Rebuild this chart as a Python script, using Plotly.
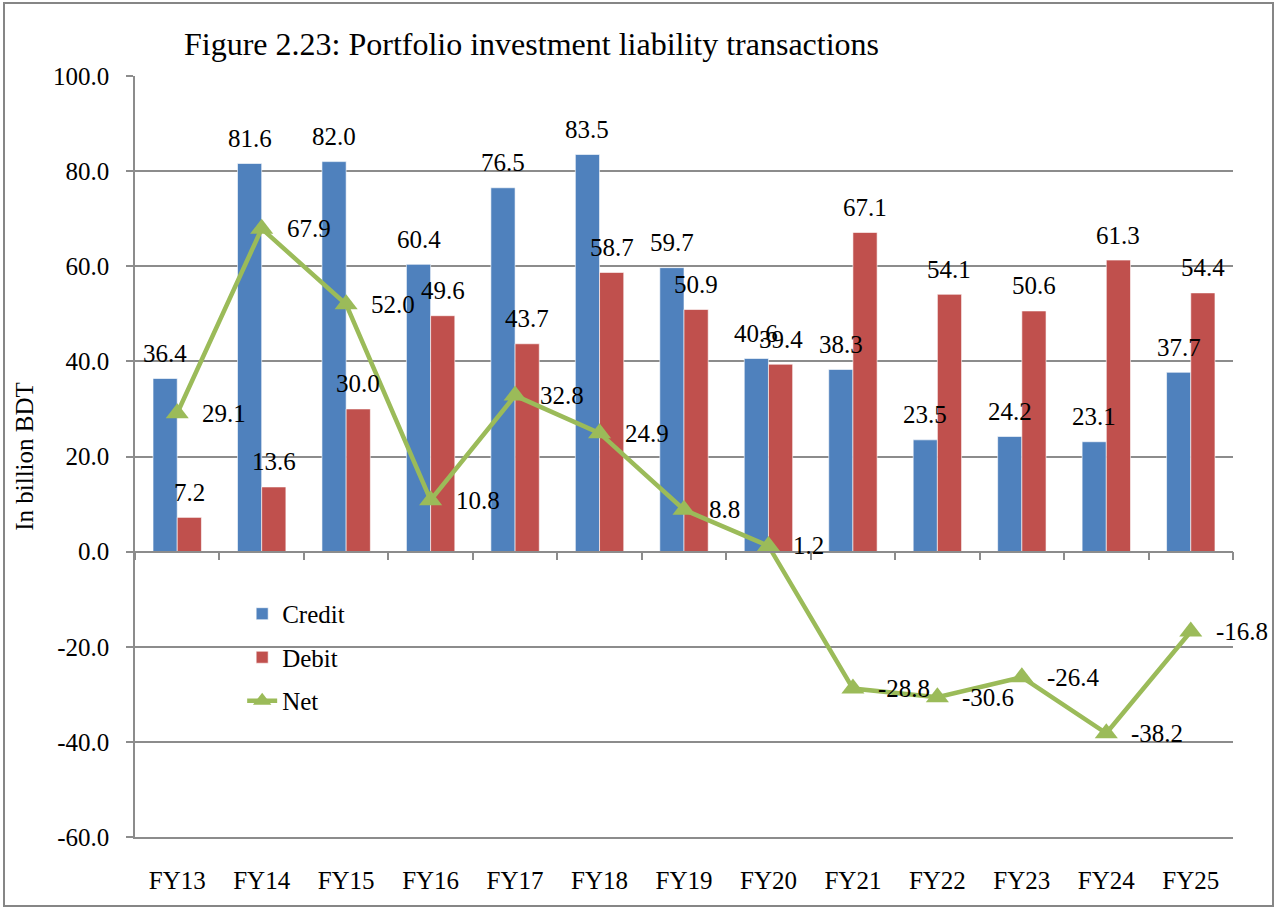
import plotly.graph_objects as go

categories = ["FY13", "FY14", "FY15", "FY16", "FY17", "FY18", "FY19",
              "FY20", "FY21", "FY22", "FY23", "FY24", "FY25"]
credit = [36.4, 81.6, 82.0, 60.4, 76.5, 83.5, 59.7, 40.6, 38.3, 23.5, 24.2, 23.1, 37.7]
debit = [7.2, 13.6, 30.0, 49.6, 43.7, 58.7, 50.9, 39.4, 67.1, 54.1, 50.6, 61.3, 54.4]
net = [29.1, 67.9, 52.0, 10.8, 32.8, 24.9, 8.8, 1.2, -28.8, -30.6, -26.4, -38.2, -16.8]
y_ticks = [-60, -40, -20, 0, 20, 40, 60, 80, 100]

FONT = "Liberation Serif"
BLUE = "#4F81BD"
RED = "#C0504D"
GREEN = "#9BBB59"
GRID = "#8c8c8c"

fig = go.Figure()
fig.add_trace(go.Bar(x=categories, y=credit, name="Credit", marker_color=BLUE,
                     marker_line=dict(width=1, color="rgba(255,255,255,0.6)"),
                     legendgroup="a"))
fig.add_trace(go.Bar(x=categories, y=debit, name="Debit", marker_color=RED,
                     marker_line=dict(width=1, color="rgba(255,255,255,0.6)"),
                     legendgroup="b"))
fig.add_trace(go.Scatter(x=categories, y=net, name="Net", mode="lines+markers",
                         line=dict(color=GREEN, width=4.5),
                         marker=dict(symbol="triangle-up", size=20, color=GREEN),
                         legendgroup="c"))
# helper trace for the category axis drawn at zero
fig.add_trace(go.Scatter(x=categories, y=[None] * len(categories), xaxis="x2",
                         showlegend=False, hoverinfo="skip"))

ann = []
half = 12.1
for c, v in zip(categories, credit):
    ann.append(dict(x=c, y=v, xref="x", yref="y", text=f"{v:.1f}", showarrow=False,
                    xshift=-half, yshift=25, yanchor="middle", xanchor="center",
                    font=dict(family=FONT, size=25, color="black")))
for c, v in zip(categories, debit):
    ann.append(dict(x=c, y=v, xref="x", yref="y", text=f"{v:.1f}", showarrow=False,
                    xshift=half, yshift=25, yanchor="middle", xanchor="center",
                    font=dict(family=FONT, size=25, color="black")))
for c, v in zip(categories, net):
    ann.append(dict(x=c, y=v, xref="x", yref="y", text=f"{v:.1f}", showarrow=False,
                    xshift=23, yshift=0, yanchor="middle", xanchor="left",
                    font=dict(family=FONT, size=25, color="black")))

x_range = [-0.5, len(categories) - 0.5]

fig.update_layout(
    width=1277, height=908,
    margin=dict(l=135, r=44, t=76, b=71, autoexpand=False),
    paper_bgcolor="white", plot_bgcolor="white",
    font=dict(family=FONT, size=25, color="black"),
    barmode="group", bargap=0.427, bargroupgap=0,
    title=dict(text="Figure 2.23: Portfolio investment liability transactions",
               xref="container", yref="container", x=184 / 1277, xanchor="left",
               y=1 - 44 / 908, yanchor="middle",
               font=dict(family=FONT, size=32, color="black")),
    xaxis=dict(type="category", categoryorder="array", categoryarray=categories,
               range=x_range,
               showgrid=False, showline=True, linecolor=GRID, linewidth=1.5,
               ticks="", ticklabelstandoff=20, automargin=False,
               tickfont=dict(family=FONT, size=25, color="black"), zeroline=False),
    xaxis2=dict(type="category", categoryorder="array", categoryarray=categories,
                overlaying="x", matches="x", anchor="free", position=60 / 160,
                showline=True, linecolor=GRID, linewidth=1.5, automargin=False,
                ticks="outside", tickson="boundaries", ticklen=8, tickcolor=GRID,
                tickwidth=1.5, showticklabels=False, showgrid=False, zeroline=False),
    yaxis=dict(range=[-60, 100], tickvals=y_ticks,
               ticktext=[f"{t:.1f}" for t in y_ticks],
               showgrid=True, gridcolor=GRID, gridwidth=1.5,
               showline=True, linecolor=GRID, linewidth=1.5, automargin=False,
               ticks="outside", ticklen=7, tickcolor=GRID, tickwidth=1.5,
               ticklabelstandoff=12, zeroline=False,
               title=dict(text="In billion BDT", standoff=12,
                          font=dict(family=FONT, size=25, color="black")),
               tickfont=dict(family=FONT, size=25, color="black")),
    legend=dict(x=0.0976, y=0.3233, xanchor="left", yanchor="top",
                bgcolor="rgba(0,0,0,0)", tracegroupgap=8,
                font=dict(family=FONT, size=25, color="black")),
    annotations=ann,
    shapes=[dict(type="rect", xref="paper", yref="paper",
                 x0=(4 - 135) / 1098, x1=(1273 - 135) / 1098,
                 y0=(837 - 906) / 761, y1=(837 - 3) / 761,
                 line=dict(color="#868686", width=2), fillcolor="rgba(0,0,0,0)",
                 layer="below")],
)

fig.write_html("out.html", config={"displayModeBar": False},
               post_script="document.body.style.margin='0';"
                           "document.body.style.overflow='hidden';")
